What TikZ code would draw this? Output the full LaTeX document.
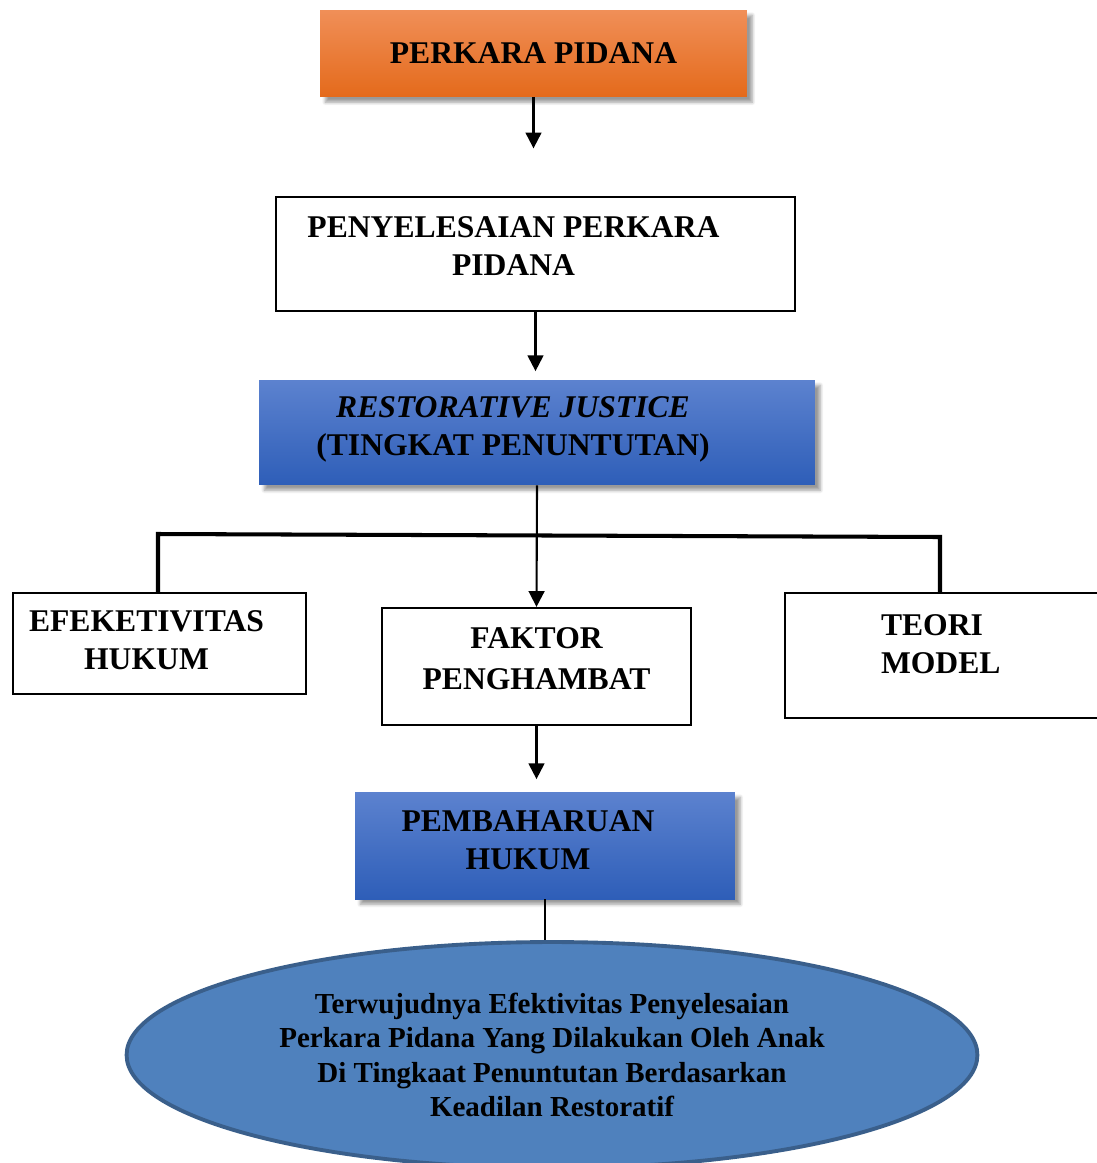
\documentclass[tikz,border=0pt]{standalone}
\usepackage{fontspec}
\setmainfont{Liberation Serif}
\usetikzlibrary{arrows.meta,shapes.geometric,shadows.blur}

\definecolor{orangeTop}{HTML}{F08F58}
\definecolor{orangeBot}{HTML}{E46A1B}
\definecolor{blueTop}{HTML}{5C82CF}
\definecolor{blueBot}{HTML}{2E5EB8}
\definecolor{ellFill}{HTML}{4F81BD}
\definecolor{ellLine}{HTML}{3A5F8B}

\begin{document}
\begin{tikzpicture}[x=0.02cm,y=-0.02cm,
    boxtext/.style={font=\fontsize{18}{21.5}\selectfont\bfseries,align=center,inner sep=0pt},
    plainbox/.style={boxtext,draw,line width=1.3pt},
    shadebox/.style={boxtext,blur shadow={shadow xshift=3pt,shadow yshift=-3pt,shadow blur steps=6,shadow opacity=40}},
    orangebox/.style={shadebox,top color=orangeTop,bottom color=orangeBot},
    bluebox/.style={shadebox,top color=blueTop,bottom color=blueBot},
    arr/.style={line width=1.2pt,-{Triangle[width=9pt,length=9pt]}},
    barline/.style={line width=2.3pt}]
    \useasboundingbox (0,0) rectangle (1097,1163);

    % top of the chart
    \node[orangebox,minimum width=8.54cm,minimum height=1.74cm] (perkara) at (533.5,53.5) {PERKARA PIDANA};
    \node[plainbox,minimum width=10.38cm,minimum height=2.28cm,
          label={[boxtext,xshift=-0.44cm,yshift=0.16cm]center:PENYELESAIAN PERKARA\\PIDANA}] (penyelesaian) at (535.5,254) {};
    \node[bluebox,minimum width=11.12cm,minimum height=2.1cm,
          label={[boxtext,xshift=-0.48cm,yshift=0.06cm]center:\itshape RESTORATIVE JUSTICE\\(TINGKAT PENUNTUTAN)}] (rj) at (537,432.5) {};

    % three boxes in the middle
    \node[plainbox,minimum width=5.86cm,minimum height=2.02cm,
          label={[boxtext,xshift=-0.26cm,yshift=0.06cm]center:EFEKETIVITAS\\HUKUM}] (eff) at (159.5,643.5) {};
    \node[plainbox,minimum width=6.18cm,minimum height=2.34cm,
          label={[boxtext,yshift=0.16cm,font=\fontsize{18}{23.5}\selectfont\bfseries]center:FAKTOR\\PENGHAMBAT}] (faktor) at (536.5,666.5) {};
    \node[plainbox,minimum width=6.4cm,minimum height=2.5cm,
          label={[boxtext,align=left,text width=2.4cm,xshift=-0.08cm,yshift=0.23cm]center:TEORI\\MODEL}] (teori) at (945,655.5) {};

    % bottom of the chart
    \node[bluebox,minimum width=7.6cm,minimum height=2.14cm,
          label={[boxtext,xshift=-0.34cm,yshift=0.1cm]center:PEMBAHARUAN\\HUKUM}] (pemb) at (545,845.5) {};
    \node[ellipse,draw=ellLine,line width=2.2pt,fill=ellFill,inner sep=0pt,
          minimum width=17.02cm,minimum height=4.52cm,align=center,
          font=\fontsize{16.5}{19.5}\selectfont\bfseries] (ell) at (552,1055)
          {Terwujudnya Efektivitas Penyelesaian\\Perkara Pidana Yang Dilakukan Oleh Anak\\Di Tingkaat Penuntutan Berdasarkan\\Keadilan Restoratif};

    % arrows with free ends
    \path (perkara.south) ++(0,51) coordinate (tipA);
    \path (penyelesaian.south) ++(0,59) coordinate (tipB);
    \path (faktor.south) ++(0,53) coordinate (tipC);
    \draw[arr] (perkara.south) -- (tipA);
    \draw[arr] (penyelesaian.south) -- (tipB);
    \draw[arr] (rj.south) -- (faktor.north);
    \draw[arr] (faktor.south) -- (tipC);
    \draw[line width=1.2pt] (pemb.south) -- (pemb.south |- ell.north);

    % branch bar
    \coordinate (barL) at (158,534);
    \coordinate (barR) at (940,537);
    \draw[barline] (barL |- eff.north) -- (barL) -- (barR) -- (barR |- teori.north);
\end{tikzpicture}
\end{document}
